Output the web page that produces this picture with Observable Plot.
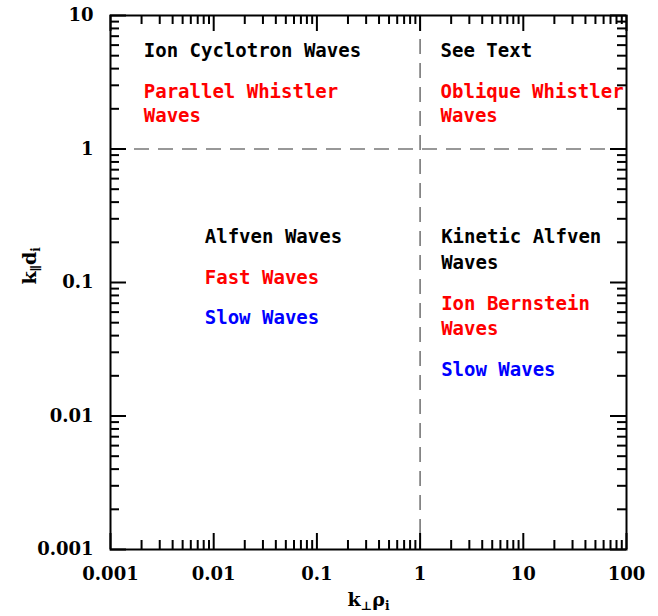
<!DOCTYPE html>
<html>
<head>
<meta charset="utf-8">
<script src="https://cdn.jsdelivr.net/npm/d3@7"></script>
<script src="https://cdn.jsdelivr.net/npm/@observablehq/plot@0.6"></script>
<style>
  html, body { margin: 0; padding: 0; background: #fff; }
  #chart svg { display: block; background: #fff; }
</style>
</head>
<body>
<div id="chart"></div>
<script>
// ---- data ----
const xDomain = [0.001, 100];
const yDomain = [0.001, 10];
const xMajorTicks = [0.001, 0.01, 0.1, 1, 10, 100];
const xTickLabels = ["0.001", "0.01", "0.1", "1", "10", "100"];
const yMajorTicks = [0.001, 0.01, 0.1, 1, 10];
const yTickLabels = ["0.001", "0.01", "0.1", "1", "10"];
const minorMultipliers = [2, 3, 4, 5, 6, 7, 8, 9];
const boundaryX = [1];
const boundaryY = [1];

const labelText = [
  "Ion Cyclotron Waves", "Parallel Whistler", "Waves",
  "See Text", "Oblique Whistler", "Waves",
  "Alfven Waves", "Fast Waves", "Slow Waves",
  "Kinetic Alfven", "Waves", "Ion Bernstein", "Waves", "Slow Waves"
];
const labelX = [
  0.0021, 0.0021, 0.0021,
  1.58, 1.58, 1.58,
  0.0082, 0.0082, 0.0082,
  1.6, 1.6, 1.6, 1.6, 1.6
];
const labelY = [
  4.85, 2.43, 1.58,
  4.85, 2.43, 1.58,
  0.196, 0.098, 0.049,
  0.196, 0.127, 0.0617, 0.0401, 0.0198
];
const labelColor = [
  "black", "red", "red",
  "black", "red", "red",
  "black", "red", "blue",
  "black", "black", "red", "red", "blue"
];

const xAxisTitle = "k⊥ρi";
const yAxisTitle = "k∥di";

// ---- build ----
const labels = labelText.map((t, i) => ({text: t, x: labelX[i], y: labelY[i], color: labelColor[i]}));
const xMinor = xMajorTicks.slice(0, -1).flatMap(d => minorMultipliers.map(m => d * m));
const yMinor = yMajorTicks.slice(0, -1).flatMap(d => minorMultipliers.map(m => d * m));

const serif = "DejaVu Serif";
const mono = "DejaVu Sans Mono";

const W = 658, H = 616, mT = 15, mL = 110, mR = 32, mB = 67;
const fw = W - mL - mR, fh = H - mT - mB;
const MAJ = 16, MIN = 9;
const tk = {stroke: "#000", strokeWidth: 2, strokeOpacity: 1};

const chart = Plot.plot({
  width: W,
  height: H,
  marginTop: mT,
  marginLeft: mL,
  marginRight: mR,
  marginBottom: mB,
  x: {type: "log", domain: xDomain, axis: null},
  y: {type: "log", domain: yDomain, axis: null},
  marks: [
    Plot.ruleX(boundaryX, {stroke: "#777", strokeWidth: 1.6, strokeDasharray: "15,9"}),
    Plot.ruleY(boundaryY, {stroke: "#777", strokeWidth: 1.6, strokeDasharray: "15,9"}),
    Plot.frame({stroke: "black", strokeWidth: 2}),
    // major ticks, inside, all sides
    Plot.ruleX(xMajorTicks, {...tk, insetTop: fh - MAJ}),
    Plot.ruleX(xMajorTicks, {...tk, insetBottom: fh - MAJ}),
    Plot.ruleY(yMajorTicks, {...tk, insetRight: fw - MAJ}),
    Plot.ruleY(yMajorTicks, {...tk, insetLeft: fw - MAJ}),
    // minor ticks
    Plot.ruleX(xMinor, {...tk, insetTop: fh - MIN}),
    Plot.ruleX(xMinor, {...tk, insetBottom: fh - MIN}),
    Plot.ruleY(yMinor, {...tk, insetRight: fw - MIN}),
    Plot.ruleY(yMinor, {...tk, insetLeft: fw - MIN}),
    // tick labels
    Plot.text(xMajorTicks, {x: d => d, frameAnchor: "bottom", dy: 30, text: (d, i) => xTickLabels[i],
      lineAnchor: "bottom", fontSize: 18, fontWeight: "bold", fontFamily: serif, fill: "black"}),
    Plot.text(yMajorTicks, {y: d => d, frameAnchor: "left", dx: -17, text: (d, i) => yTickLabels[i],
      textAnchor: "end", lineAnchor: "middle", fontSize: 18, fontWeight: "bold", fontFamily: serif, fill: "black"}),
    // annotations
    Plot.text(labels, {x: "x", y: "y", text: "text", fill: "color", textAnchor: "start", lineAnchor: "bottom",
      fontFamily: mono, fontWeight: "bold", fontSize: 19}),
    // axis titles
    Plot.text([xAxisTitle], {frameAnchor: "bottom", dx: 0, dy: 56, lineAnchor: "bottom", fontSize: 19,
      fontWeight: "bold", fontFamily: serif, fill: "black", className: "xtitle"}),
    Plot.text([yAxisTitle], {frameAnchor: "left", dx: -75, dy: 2, rotate: -90, lineAnchor: "bottom", fontSize: 19,
      fontWeight: "bold", fontFamily: serif, fill: "black", className: "ytitle"})
  ]
});

document.getElementById("chart").appendChild(chart);

// subscripts for axis titles
function subscriptify(sel, parts) {
  d3.select(chart).selectAll("." + sel + " text").each(function () {
    const t = d3.select(this);
    t.text(null);
    parts.forEach(([s, sub]) => {
      const ts = t.append("tspan").text(s);
      if (sub) ts.attr("font-size", "12").attr("baseline-shift", "-30%");
    });
  });
}
subscriptify("xtitle", [["k", false], ["⊥", true], ["ρ", false], ["i", true]]);
subscriptify("ytitle", [["k", false], ["∥", true], ["d", false], ["i", true]]);
</script>
</body>
</html>
